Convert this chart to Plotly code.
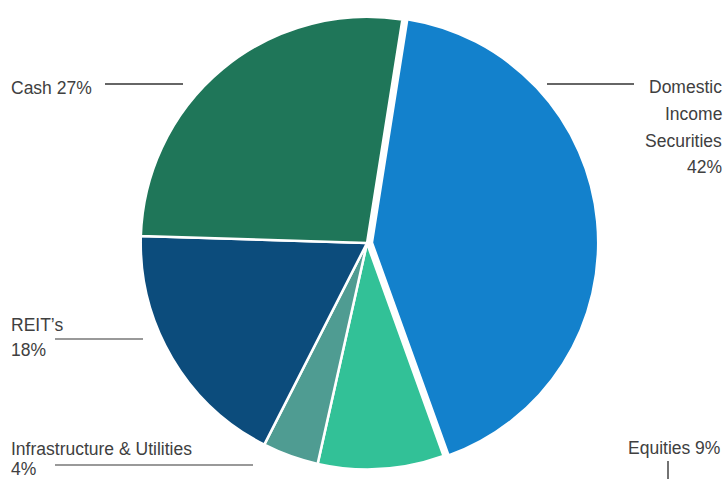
import plotly.graph_objects as go

categories = ["Domestic Income Securities", "Equities", "Infrastructure & Utilities", "REIT's", "Cash"]
values = [42, 9, 4, 18, 27]
colors = ["#1381cc", "#32c197", "#4f9c92", "#0c4c7c", "#1f7659"]
pulls = [0.022, 0, 0, 0, 0]

W, H = 726, 479

fig = go.Figure(go.Pie(
    labels=categories,
    values=values,
    sort=False,
    direction="clockwise",
    rotation=9,
    pull=pulls,
    textinfo="none",
    hoverinfo="label+percent",
    marker=dict(colors=colors, line=dict(color="white", width=2.5)),
    domain=dict(x=[0.187, 0.824], y=[0.009, 0.976]),
    showlegend=False,
))

def px(x):
    return x / W

def py(y):
    return 1 - y / H

font = dict(family="Liberation Sans, Arial, sans-serif", size=17.5, color="#404040")
texts = [
    ("Cash 27%", 9, 88, "left"),
    ("Domestic", 724, 87, "right"),
    ("Income", 724, 114, "right"),
    ("Securities", 724, 141, "right"),
    ("42%", 724, 167, "right"),
    ("REIT\u2019s", 9, 325, "left"),
    ("18%", 9, 350, "left"),
    ("Infrastructure & Utilities", 9, 449, "left"),
    ("4%", 9, 469, "left"),
    ("Equities 9%", 722, 448, "right"),
]
for t, x, y, a in texts:
    fig.add_annotation(text=t, x=px(x), y=py(y), xref="paper", yref="paper",
                       xanchor=a, yanchor="middle", showarrow=False, font=font)

lines = [
    (105, 84, 183, 84, "#333333"),
    (547, 84, 634, 84, "#333333"),
    (55, 339, 143, 339, "#777777"),
    (55, 465, 253, 465, "#777777"),
    (668, 461, 668, 479, "#444444"),
]
for x0, y0, x1, y1, c in lines:
    fig.add_shape(type="line", xref="paper", yref="paper",
                  x0=px(x0), y0=py(y0), x1=px(x1), y1=py(y1),
                  line=dict(color=c, width=1.5))

fig.update_layout(
    width=W, height=H,
    margin=dict(l=0, r=0, t=0, b=0),
    paper_bgcolor="white",
    plot_bgcolor="white",
)

fig.write_html("out.html",
               config={"displayModeBar": False},
               post_script="document.body.style.margin='0';document.body.style.overflow='hidden';")
